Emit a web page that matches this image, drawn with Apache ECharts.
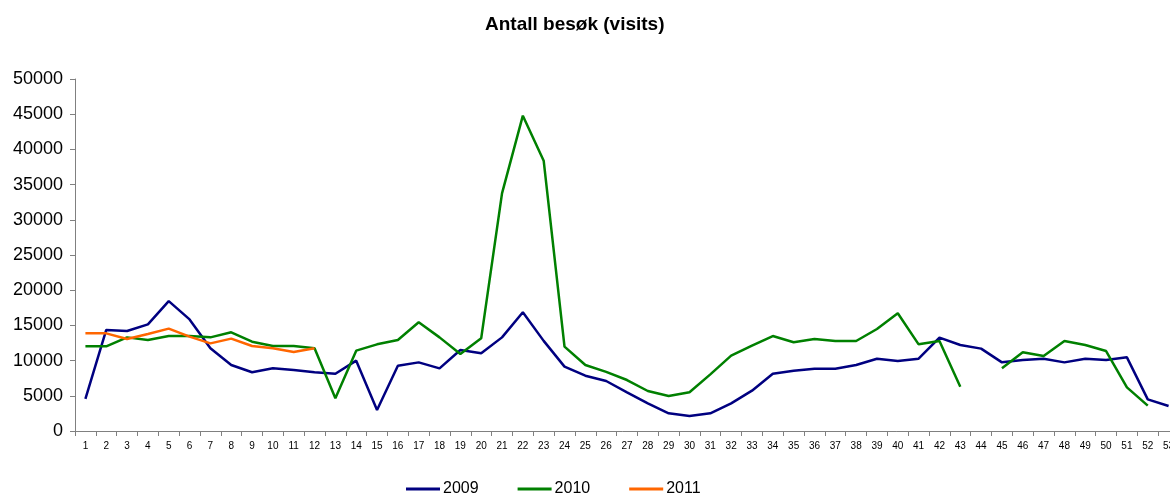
<!DOCTYPE html>
<html>
<head>
<meta charset="utf-8">
<script src="https://cdn.jsdelivr.net/npm/echarts@6/dist/echarts.min.js"></script>
<style>
  html, body { margin: 0; padding: 0; background: #fff; }
  #chart { width: 1170px; height: 494px; }
</style>
</head>
<body>
<div id="chart"></div>
<script>
  // uker 1-53
  var weeks = []
  for (var w = 1; w <= 53; w++) weeks.push(String(w))

  var visits2009 = [4550, 14350, 14200, 15150, 18450, 15850, 11750, 9370, 8340, 8900,
    8660, 8340, 8140, 9990, 2980, 9280, 9750, 8900, 11500, 11030,
    13300, 16860, 12800, 9140, 7860, 7100, 5500, 3930, 2510, 2130,
    2510, 3930, 5730, 8140, 8570, 8850, 8850, 9370, 10270, 9940,
    10270, 13260, 12220, 11700, 9750, 10080, 10270, 9750, 10270, 10080,
    10460, 4500, 3550]

  var visits2010 = [12030, 12030, 13300, 12930, 13490, 13490, 13300, 14020, 12690, 12070,
    12070, 11740, 4640, 11410, 12310, 12930, 15440, 13300, 10940, 13160,
    33760, 44790, 38400, 11980, 9370, 8400, 7240, 5680, 4970, 5500,
    8050, 10700, 12120, 13490, 12600, 13070, 12780, 12780, 14490, 16720,
    12310, 12780, 6300, null, 8900, 11180, 10650, 12780, 12220, 11360,
    6200, 3600, null]

  var visits2011 = [13870, 13870, 13070, 13780, 14540, 13400, 12450, 13120, 12070, 11740,
    11220, 11740]

  var yTicks = [0, 5000, 10000, 15000, 20000, 25000, 30000, 35000, 40000, 45000, 50000]

  var chart = echarts.init(document.getElementById('chart'))

  function serie(name, color, data) {
    return {
      name: name,
      type: 'line',
      data: data,
      symbol: 'none',
      color: color,
      lineStyle: { color: color, width: 2.5 },
      animation: false
    }
  }

  chart.setOption({
    title: {
      text: 'Antall besøk (visits)',
      left: 480,
      top: 10,
      textStyle: { fontFamily: 'Liberation Sans', fontSize: 19, fontWeight: 'bold', color: '#000' }
    },
    legend: {
      left: 406,
      top: 481,
      padding: 0,
      itemWidth: 34,
      itemHeight: 3,
      itemGap: 39,
      icon: 'rect',
      textStyle: { fontFamily: 'Liberation Sans', fontSize: 16, color: '#000', padding: [0, 0, 0, -2] },
      data: ['2009', '2010', '2011']
    },
    grid: {
      left: 75,
      width: 1104,
      top: 79,
      bottom: 63,
      containLabel: false,
      outerBoundsMode: 'none'
    },
    xAxis: {
      type: 'category',
      data: weeks,
      boundaryGap: true,
      axisLine: { lineStyle: { color: '#808080', width: 1 } },
      axisTick: { show: true, alignWithLabel: false, length: 5, lineStyle: { color: '#808080' } },
      axisLabel: {
        interval: 0,
        fontFamily: 'Liberation Sans',
        fontSize: 10,
        color: '#000',
        margin: 10
      }
    },
    yAxis: {
      type: 'value',
      min: yTicks[0],
      max: yTicks[yTicks.length - 1],
      interval: 5000,
      splitLine: { show: false },
      axisLine: { show: true, lineStyle: { color: '#808080', width: 1 } },
      axisTick: { show: true, length: 5, lineStyle: { color: '#808080' } },
      axisLabel: {
        fontFamily: 'Liberation Sans',
        fontSize: 18,
        color: '#000',
        margin: 12,
        formatter: function (v) { return String(v) }
      }
    },
    series: [
      serie('2009', '#000080', visits2009),
      serie('2010', '#008000', visits2010),
      serie('2011', '#ff6600', visits2011)
    ]
  })
</script>
</body>
</html>
